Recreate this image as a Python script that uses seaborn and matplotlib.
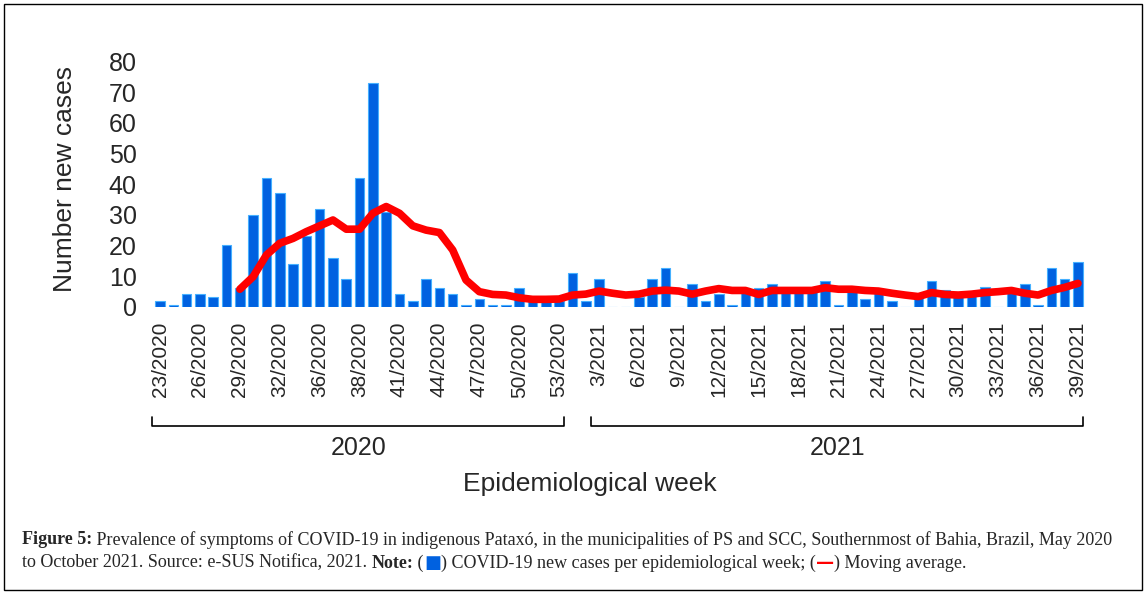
import numpy as np
import pandas as pd
import seaborn as sns
import matplotlib.pyplot as plt
from matplotlib.lines import Line2D
from matplotlib.patches import Rectangle

# Epidemiological weeks (23/2020 .. 39/2021)
weeks = [f"{w}/2020" for w in range(23, 54)] + [f"{w}/2021" for w in range(1, 40)]

# New cases per week
cases = [2, 0.5, 4, 4, 3, 20, 6, 30, 42, 37,
         14, 23, 32, 16, 9, 42, 73, 31, 4, 2,
         9, 6, 4, 0.5, 2.5, 0.5, 0.5, 6, 2, 2,
         2, 11, 2, 9, 0, 0, 3, 9, 12.5, 0,
         7.5, 2, 4, 0.5, 6, 6, 7.5, 5, 5, 5,
         8.5, 0.5, 5.5, 2.5, 5, 2, 0, 3, 8.5, 5.5,
         4, 4, 6.5, 0, 5, 7.5, 0.5, 12.5, 9, 14.5]

# Moving average, starts at week 29/2020
ma_first_week = "29/2020"
moving_avg = [5.7, 9.8, 16.9, 20.7, 22.3, 24.5, 26.4, 28.3, 25.3, 25.3,
              30.5, 32.7, 30.5, 26.4, 25.0, 24.2, 18.5, 8.7, 4.9, 4.0,
              3.8, 2.9, 2.4, 2.4, 2.5, 3.8, 4.1, 5.1, 4.4, 3.8,
              4.1, 5.1, 5.4, 5.1, 4.1, 5.1, 5.9, 5.3, 5.3, 4.0,
              5.3, 5.3, 5.3, 5.3, 6.2, 5.7, 5.7, 5.3, 5.1, 4.4,
              3.8, 3.3, 4.6, 4.0, 3.8, 4.1, 4.6, 4.9, 5.3, 4.4,
              3.8, 5.3, 6.3, 7.6]

# Tick labels as printed in the original (every 3rd week)
tick_labels = ["23/2020", "26/2020", "29/2020", "32/2020", "36/2020", "38/2020",
               "41/2020", "44/2020", "47/2020", "50/2020", "53/2020",
               "3/2021", "6/2021", "9/2021", "12/2021", "15/2021", "18/2021",
               "21/2021", "24/2021", "27/2021", "30/2021", "33/2021",
               "36/2021", "39/2021"]

BLUE = "#0061E0"
EDGE = "#45B0FF"
RED = "#FF0000"

sns.set_style("white")
plt.rcParams['font.family'] = ['Liberation Sans', 'DejaVu Sans']

fig = plt.figure(figsize=(11.48, 5.94), dpi=100)
ax = fig.add_axes([0.1336, 0.4837, 0.8112, 0.4125])

df = pd.DataFrame({"week": weeks, "cases": cases})
sns.barplot(data=df, x="week", y="cases", color=BLUE, saturation=1,
            width=0.72, edgecolor=EDGE, linewidth=0.8, ax=ax)

start = weeks.index(ma_first_week)
ma_df = pd.DataFrame({"pos": np.arange(start, start + len(moving_avg)), "ma": moving_avg})
sns.lineplot(data=ma_df, x="pos", y="ma", color=RED, lw=5.5,
             solid_capstyle="round", solid_joinstyle="round", ax=ax)

ax.set_xlim(-0.5, len(weeks) - 0.5)
ax.set_ylim(0, 80)
ax.set_yticks(range(0, 81, 10))
ax.set_xticks(range(0, len(weeks), 3))
ax.set_xticklabels(tick_labels, rotation=90, fontsize=15)
ax.tick_params(axis="x", length=0, pad=11)
ax.tick_params(axis="y", length=0, pad=12, labelsize=18)
ax.set_xlabel("")
ax.set_ylabel("")
sns.despine(ax=ax, left=True, bottom=True)

fig.text(65 / 1148, 0.6987, "Number new cases", rotation=90, ha="center", va="center", fontsize=19)

# year brackets under the tick labels
trans = ax.get_xaxis_transform()
n2020 = sum(w.endswith("2020") for w in weeks)
for year, a, b in [("2020", 0, n2020 - 1), ("2021", n2020 + 2, len(weeks) - 1)]:
    x0, x1 = a - 0.6, b + 0.4
    ax.add_line(Line2D([x0, x0, x1, x1], [-0.449, -0.487, -0.487, -0.449],
                       transform=trans, color="black", lw=1.2, clip_on=False))
    ax.text((x0 + x1) / 2, -0.576, year, transform=trans, ha="center", va="center", fontsize=18)

fig.text(590 / 1148, 1 - 484 / 594, "Epidemiological week", ha="center", va="center", fontsize=19)

# caption
def draw_row(pieces, x0, y, size):
    r = fig.canvas.get_renderer()
    x = x0
    for s, kw in pieces:
        t = fig.text(x, y, s, fontsize=size, va="center", **kw)
        x = t.get_window_extent(renderer=r).x1 / fig.bbox.width

serif = dict(family="Liberation Serif")
serif_b = dict(family="Liberation Serif", weight="bold")
draw_row([("Figure 5:", serif_b),
          (" Prevalence of symptoms of COVID-19 in indigenous Pataxó, in the municipalities of PS and SCC, "
           "Southernmost of Bahia, Brazil, May 2020", serif)],
         22 / 1148, 1 - 540 / 594, 13)
draw_row([("to October 2021. Source: e-SUS Notifica, 2021. ", serif),
          ("Note:", serif_b), (" (", serif),
          ("■", dict(family="DejaVu Sans", color=BLUE)),
          (") COVID-19 new cases per epidemiological week; (", serif),
          ("—", dict(family="DejaVu Sans", color=RED, weight="bold")),
          (") Moving average.", serif)],
         22 / 1148, 1 - 563 / 594, 13)

fig.add_artist(Rectangle((4 / 1148, 4 / 594), 1138 / 1148, 586 / 594, transform=fig.transFigure,
                         fill=False, edgecolor="black", lw=1))

plt.savefig("out.png", dpi=100)
